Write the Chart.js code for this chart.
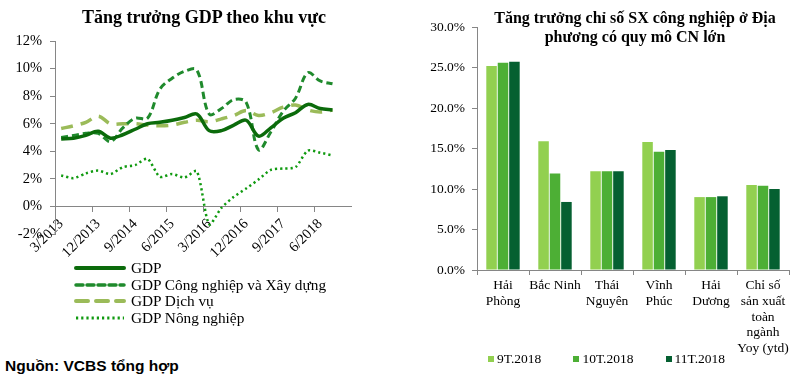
<!DOCTYPE html>
<html lang="vi">
<head>
    <meta charset="UTF-8">
    <title>Tăng trưởng GDP và chỉ số SX công nghiệp</title>
    <script src="https://cdn.jsdelivr.net/npm/chart.js"></script>
    <style>
        body { margin: 0; width: 800px; height: 388px; position: relative; overflow: hidden; background: #fff; font-family: "Liberation Serif", serif; color: #000; }
        .box { position: absolute; }
        #khungGdp { left: 0; top: 0; width: 400px; height: 262px; }
        #khungSx { left: 400px; top: 0; width: 400px; height: 388px; }
        #tituloGdp { left: 0; top: 6px; width: 408px; text-align: center; font-weight: bold; font-size: 18px; line-height: 22px; }
        #tituloSx { left: 475px; top: 8px; width: 320px; text-align: center; font-weight: bold; font-size: 16px; line-height: 19px; }
        #legendaGdp { left: 74px; top: 260px; font-size: 15.3px; }
        #legendaGdp .item { display: flex; align-items: center; height: 16.5px; }
        #legendaGdp svg { margin-right: 5px; }
        #legendaSx { left: 488px; top: 351px; font-size: 13.5px; display: flex; align-items: center; }
        #legendaSx .sq { display: inline-block; width: 6px; height: 6px; margin-right: 3px; }
        #legendaSx .lbl { display: inline-block; }
        #fonte { left: 5px; top: 357px; font-family: "Liberation Sans", sans-serif; font-weight: bold; font-size: 15.5px; }
    </style>
</head>
<body>
    <div class="box" id="khungGdp"><canvas id="graficoGdp"></canvas></div>
    <div class="box" id="khungSx"><canvas id="graficoSx"></canvas></div>

    <div class="box" id="tituloGdp">Tăng trưởng GDP theo khu vực</div>
    <div class="box" id="tituloSx">Tăng trưởng chỉ số SX công nghiệp ở Địa<br>phương có quy mô CN lớn</div>

    <div class="box" id="legendaGdp"></div>
    <div class="box" id="legendaSx"></div>

    <div class="box" id="fonte">Nguồn: VCBS tổng hợp</div>

<script>
    // ----- dados: GDP theo khu vực (%, lũy kế) -----
    var quy = ['3/2013', '6/2013', '9/2013', '12/2013', '3/2014', '6/2014', '9/2014', '12/2014',
        '3/2015', '6/2015', '9/2015', '12/2015', '3/2016', '6/2016', '9/2016', '12/2016',
        '3/2017', '6/2017', '9/2017', '12/2017', '3/2018', '6/2018', '9/2018', '12/2018'];
    var gdp = [4.9, 4.95, 5.15, 5.45, 4.95, 5.2, 5.6, 6.0, 6.1, 6.25, 6.45, 6.7,
        5.5, 5.5, 5.9, 6.25, 5.1, 5.7, 6.4, 6.8, 7.4, 7.1, 7.0, null];
    var gdpCongNghiep = [5.0, 5.15, 5.3, 5.3, 4.7, 5.7, 6.4, 6.4, 8.5, 9.3, 9.8, 9.9,
        6.7, 7.1, 7.75, 7.55, 4.1, 5.4, 6.9, 7.85, 9.7, 9.1, 8.9, null];
    var gdpDichVu = [5.65, 5.85, 6.1, 6.55, 6.0, 6.0, 6.0, 5.9, 5.85, 5.9, 6.1, 6.25,
        6.15, 6.35, 6.6, 6.95, 6.6, 6.8, 7.2, 7.35, 7.0, 6.85, 7.0, null];
    var gdpNongNghiep = [2.25, 2.05, 2.4, 2.6, 2.35, 2.85, 3.0, 3.45, 2.15, 2.35, 2.1, 2.55,
        -1.3, -0.1, 0.7, 1.3, 1.95, 2.65, 2.75, 2.85, 4.05, 3.9, 3.7, null];
    var tickGdp = [-2, 0, 2, 4, 6, 8, 10, 12];

    // ----- dados: chỉ số SX công nghiệp (%) -----
    var diaPhuong = [['Hải', 'Phòng'], 'Bắc Ninh', ['Thái', 'Nguyên'], ['Vĩnh', 'Phúc'], ['Hải', 'Dương'],
        ['Chỉ số', 'sản xuất', 'toàn', 'ngành', 'Yoy (ytd)']];
    var t9 = [25.2, 15.9, 12.2, 15.8, 9.0, 10.5];
    var t10 = [25.6, 11.9, 12.2, 14.6, 9.0, 10.4];
    var t11 = [25.7, 8.4, 12.2, 14.8, 9.1, 10.0];
    var tickSx = [0, 5, 10, 15, 20, 25, 30];

    var serif = 'Liberation Serif';
    var cinza = '#868686';

    var seriesGdp = [
        { nome: 'GDP', dados: gdp, cor: '#0B6B0B', largura: 3.5, traco: [], tensao: 0.35 },
        { nome: 'GDP Công nghiệp và Xây dựng', dados: gdpCongNghiep, cor: '#1F8A2C', largura: 3, traco: [7, 4], tensao: 0.35 },
        { nome: 'GDP Dịch vụ', dados: gdpDichVu, cor: '#9BBB59', largura: 3.5, traco: [12, 8], tensao: 0.35 },
        { nome: 'GDP Nông nghiệp', dados: gdpNongNghiep, cor: '#109A10', largura: 2.5, traco: [2.2, 3], tensao: 0.25 }
    ];

    function graficoGdp() {
        var datasets = seriesGdp.map(function (s) {
            return {
                label: s.nome,
                data: s.dados,
                borderColor: s.cor,
                backgroundColor: s.cor,
                borderWidth: s.largura,
                borderDash: s.traco,
                tension: s.tensao,
                pointRadius: 0,
                fill: false
            };
        });

        new Chart(document.getElementById('graficoGdp'), {
            type: 'line',
            data: { labels: quy, datasets: datasets },
            options: {
                responsive: true,
                maintainAspectRatio: false,
                animation: false,
                layout: { padding: { top: 41, bottom: 28, left: 0, right: 49 } },
                plugins: { legend: { display: false }, tooltip: { enabled: false } },
                scales: {
                    x: {
                        position: { y: 0 },
                        offset: true,
                        grid: {
                            offset: true,
                            drawOnChartArea: false,
                            tickLength: 5,
                            tickColor: function (ctx) { return ctx.index % 3 === 0 ? cinza : 'rgba(0,0,0,0)'; }
                        },
                        border: { color: cinza },
                        ticks: {
                            autoSkip: false,
                            maxRotation: 45,
                            minRotation: 45,
                            padding: 4,
                            color: '#000',
                            font: { family: serif, size: 14.5 },
                            callback: function (v, i) { return i % 3 === 0 ? quy[i] : ''; }
                        }
                    },
                    y: {
                        min: tickGdp[0],
                        max: tickGdp[tickGdp.length - 1],
                        afterFit: function (axis) { axis.width = 55; },
                        afterBuildTicks: function (axis) { axis.ticks = tickGdp.map(function (v) { return { value: v }; }); },
                        grid: { drawOnChartArea: false, tickLength: 5, tickColor: cinza },
                        border: { color: cinza },
                        ticks: {
                            padding: 8,
                            color: '#000',
                            font: { family: serif, size: 14.5 },
                            callback: function (v) { return v + '%'; }
                        }
                    }
                }
            }
        });
    }

    function graficoSx() {
        var data = {
            labels: diaPhuong,
            datasets: [
                { label: '9T.2018', data: t9, backgroundColor: '#92D050' },
                { label: '10T.2018', data: t10, backgroundColor: '#4DAF35' },
                { label: '11T.2018', data: t11, backgroundColor: '#056031' }
            ]
        };

        new Chart(document.getElementById('graficoSx'), {
            type: 'bar',
            data: data,
            options: {
                responsive: true,
                maintainAspectRatio: false,
                animation: false,
                layout: { padding: { top: 27, bottom: 18, left: 0, right: 11 } },
                datasets: { bar: { categoryPercentage: 0.66, barPercentage: 0.92 } },
                plugins: { legend: { display: false }, tooltip: { enabled: false } },
                scales: {
                    x: {
                        afterFit: function (axis) { axis.height = 100; },
                        grid: { offset: true, drawOnChartArea: false, tickLength: 5, tickColor: cinza },
                        border: { color: cinza },
                        ticks: {
                            autoSkip: false,
                            maxRotation: 0,
                            padding: 3,
                            color: '#000',
                            font: { family: serif, size: 13.5, lineHeight: 1.16 }
                        }
                    },
                    y: {
                        min: tickSx[0],
                        max: tickSx[tickSx.length - 1],
                        afterFit: function (axis) { axis.width = 77; },
                        afterBuildTicks: function (axis) { axis.ticks = tickSx.map(function (v) { return { value: v }; }); },
                        grid: { drawOnChartArea: false, tickLength: 5, tickColor: cinza },
                        border: { color: cinza },
                        ticks: {
                            padding: 7,
                            color: '#000',
                            font: { family: serif, size: 13.5 },
                            callback: function (v) { return v.toFixed(1) + '%'; }
                        }
                    }
                }
            }
        });

        // legenda embaixo
        var leg = document.getElementById('legendaSx');
        var gaps = [0, 32, 32];
        data.datasets.forEach(function (ds, i) {
            var sq = document.createElement('span');
            sq.className = 'sq';
            sq.style.background = ds.backgroundColor;
            sq.style.marginLeft = gaps[i] + 'px';
            var t = document.createElement('span');
            t.className = 'lbl';
            t.textContent = ds.label;
            leg.appendChild(sq);
            leg.appendChild(t);
        });
    }

    function legendaGdp() {
        var leg = document.getElementById('legendaGdp');
        seriesGdp.forEach(function (s) {
            var item = document.createElement('div');
            item.className = 'item';
            var cap = s.traco.length && s.traco[0] < 3 ? 'butt' : 'round';
            item.innerHTML = '<svg width="52" height="8"><line x1="2" y1="4" x2="50" y2="4" stroke="' + s.cor +
                '" stroke-width="' + (s.largura + 0.5) + '" stroke-linecap="' + cap + '" stroke-dasharray="' +
                (s.traco.length ? s.traco.join(',') : 'none') + '"/></svg><span>' + s.nome + '</span>';
            leg.appendChild(item);
        });
    }

    graficoGdp();
    graficoSx();
    legendaGdp();
</script>
</body>
</html>
